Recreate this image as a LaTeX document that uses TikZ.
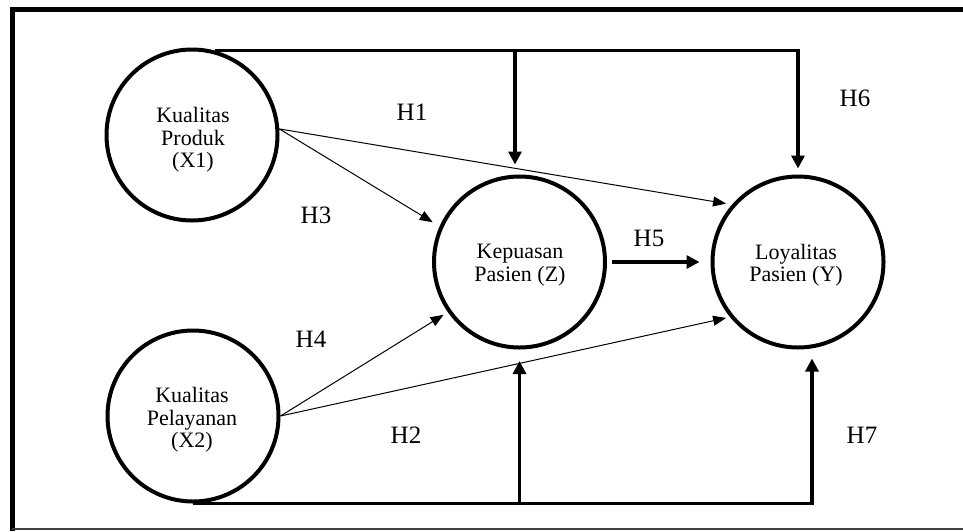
\documentclass[tikz,border=0pt]{standalone}
\usepackage{fontspec}
\setmainfont{Liberation Serif}
\usetikzlibrary{arrows.meta}
\tikzset{
  circ/.style={circle, draw=black, line width=4pt, minimum size=171pt, inner sep=0pt},
  ctext/.style={align=center, font=\fontsize{22}{22.5}\selectfont, inner sep=0pt},
  hlab/.style={font=\fontsize{25}{27}\selectfont, inner sep=0pt},
  thickarrow/.style={line width=3.2pt, -{Triangle[length=13pt,width=13pt]}},
  thinarrow/.style={line width=1pt, -{Triangle[length=13pt,width=10pt]}},
}
\begin{document}
\begin{tikzpicture}[x=1pt,y=-1pt]
\useasboundingbox (0,0) rectangle (963,531);
% frame
\draw[line width=5pt] (9.5,9) -- (963,9);
\draw[line width=5pt] (12,6.5) -- (12,531);
\draw[line width=2pt, black!75] (12,529) -- (963,529);
% circles
\node[circ] (X1) at (192,135) {};
\node[circ] (X2) at (193,416) {};
\node[circ] (Z) at (519.5,262) {};
\node[circ] (Y) at (798,262) {};
% texts
\node[ctext] (X1t) at (193,140) {Kualitas\\Produk\\(X1)};
\node[ctext] (X2t) at (192,420) {Kualitas\\Pelayanan\\(X2)};
\node[ctext] (Zt) at (520,265) {Kepuasan\\Pasien (Z)};
\node[ctext] (Yt) at (796,265) {Loyalitas\\Pasien (Y)};
% labels
\node[hlab] (H1) at (412,112) {H1};
\node[hlab] (H6) at (855,98) {H6};
\node[hlab] (H3) at (316,215) {H3};
\node[hlab] (H5) at (649,238) {H5};
\node[hlab] (H4) at (311,339) {H4};
\node[hlab] (H2) at (406,435) {H2};
\node[hlab] (H7) at (862,435) {H7};
% thin arrows
\draw[thinarrow, shorten >=8pt] (X1.4) -- (Z.156);
\draw[thinarrow, shorten >=6pt] (X1.4) -- (Y.139);
\draw[thinarrow, shorten >=5pt] (X2.0) -- (Z.215);
\draw[thinarrow, shorten >=4pt] (X2.0) -- (Y.219);
% H5
\draw[thickarrow, shorten <=5pt, shorten >=11pt] (Z.east) -- (Y.west);
% top connectors
\coordinate (tz) at ([xshift=-4.5pt]X1.75 -| Z.north);
\draw[thickarrow, shorten >=6pt] (X1.75) -| (Y.north);
\draw[thickarrow, shorten >=10pt] (tz) -- (tz |- Z.north);
% bottom connectors
\coordinate (by) at ([xshift=14pt]Y.south);
\coordinate (bz) at (X2.south -| Z.south);
\draw[thickarrow, shorten >=9pt] (X2.south) -| (by);
\draw[thickarrow, shorten >=11.5pt] (bz) -- (bz |- Z.south);
\end{tikzpicture}
\end{document}
